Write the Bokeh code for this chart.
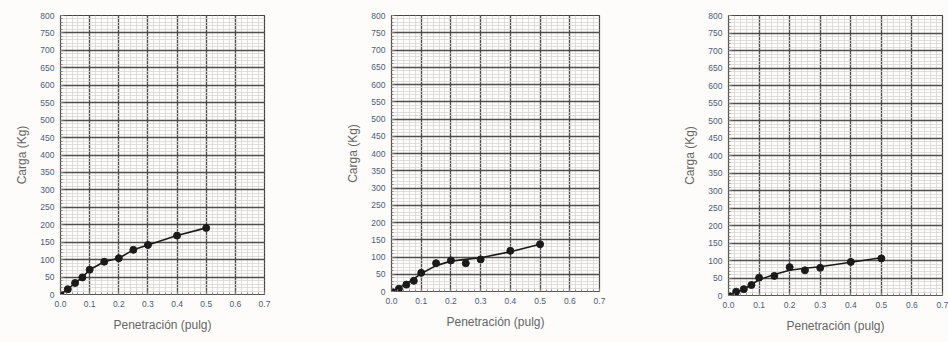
from bokeh.plotting import figure
from bokeh.layouts import row
from bokeh.models import FixedTicker, Range1d
from bokeh.embed import file_html
from bokeh.resources import INLINE

# Penetración (pulg)
pen = [0.0, 0.025, 0.05, 0.075, 0.1, 0.15, 0.2, 0.25, 0.3, 0.4, 0.5]

# Carga (Kg) measured points
carga_1 = [0, 15, 33, 49, 71, 94, 104, 128, 142, 169, 191]
carga_2 = [0, 8, 20, 31, 54, 82, 90, 82, 93, 118, 137]
carga_3 = [0, 11, 18, 30, 51, 56, 81, 72, 79, 96, 106]

# fitted curves (panels 2 and 3)
curve_x = [0.0, 0.05, 0.1, 0.15, 0.2, 0.25, 0.3, 0.4, 0.5]
curve_2 = [0, 22, 52, 75, 88, 93, 98, 115, 137]
curve_3 = [0, 18, 45, 60, 72, 78, 82, 95, 108]

# tick labels
x_ticks = [0.0, 0.1, 0.2, 0.3, 0.4, 0.5, 0.6, 0.7]
x_tick_labels = ["0.0", "0.1", "0.2", "0.3", "0.4", "0.5", "0.6", "0.7"]
y_ticks = list(range(0, 801, 50))

x_label = "Penetración (pulg)"
y_label = "Carga (Kg)"

FONT = "Liberation Sans"
BG = "#fdfcfa"

x_minor = [round(i * 0.02, 3) for i in range(0, 36)]
y_minor = list(range(0, 801, 10))


def make_panel(line_x, line_y, pts_y, left, frame_w, right, top, frame_h):
    p = figure(
        width=left + frame_w + right,
        height=342,
        frame_width=frame_w,
        frame_height=frame_h,
        min_border_left=left,
        min_border_right=right,
        min_border_top=top,
        min_border_bottom=342 - top - frame_h,
        x_range=Range1d(0, 0.7),
        y_range=Range1d(0, 800),
        output_backend="svg",
        toolbar_location=None,
        background_fill_color=BG,
        border_fill_color=BG,
    )
    p.outline_line_color = "#444444"
    p.outline_line_width = 1.2

    xt = FixedTicker(ticks=x_ticks, minor_ticks=x_minor)
    yt = FixedTicker(ticks=y_ticks, minor_ticks=y_minor)
    p.xaxis.ticker = xt
    p.yaxis.ticker = yt
    p.xgrid.ticker = xt
    p.ygrid.ticker = yt
    p.xaxis.major_label_overrides = {t: s for t, s in zip(x_ticks, x_tick_labels)}

    for g in (p.xgrid, p.ygrid):
        g.grid_line_color = "#3f3f3f"
        g.grid_line_width = 1.4
        g.grid_line_alpha = 0.9
        g.minor_grid_line_color = "#d6d6d6"
        g.minor_grid_line_width = 0.8

    for ax in (p.xaxis, p.yaxis):
        ax.axis_line_color = "#555555"
        ax.major_tick_in = 4
        ax.major_tick_out = 0
        ax.minor_tick_in = 2
        ax.minor_tick_out = 0
        ax.major_tick_line_color = "#666666"
        ax.minor_tick_line_color = "#888888"
        ax.major_label_text_font = FONT
        ax.major_label_text_font_size = "8.5px"
        ax.major_label_text_color = "#4d5b78"
        ax.axis_label_text_font = FONT
        ax.axis_label_text_font_style = "normal"
        ax.axis_label_text_font_size = "12px"
        ax.axis_label_text_color = "#666666"
    p.xaxis.axis_label = x_label
    p.yaxis.axis_label = y_label
    p.xaxis.major_label_standoff = 6
    p.yaxis.major_label_standoff = 6
    p.xaxis.axis_label_standoff = 8
    p.yaxis.axis_label_standoff = 8

    p.line(line_x, line_y, line_color="#1a1a1a", line_width=1.6)
    p.scatter(pen, pts_y, size=7, fill_color="#1a1a1a", line_color="#1a1a1a")
    return p


p1 = make_panel(pen, carga_1, carga_1, left=60, frame_w=204, right=66, top=14, frame_h=279)
p2 = make_panel(curve_x, curve_2, carga_2, left=61, frame_w=208, right=69, top=15, frame_h=276)
p3 = make_panel(curve_x, curve_3, carga_3, left=60, frame_w=214, right=6, top=10, frame_h=280)

layout = row(p1, p2, p3, spacing=0)
layout.styles = {"background-color": BG}

open("out.html", "w").write(file_html(layout, INLINE))
